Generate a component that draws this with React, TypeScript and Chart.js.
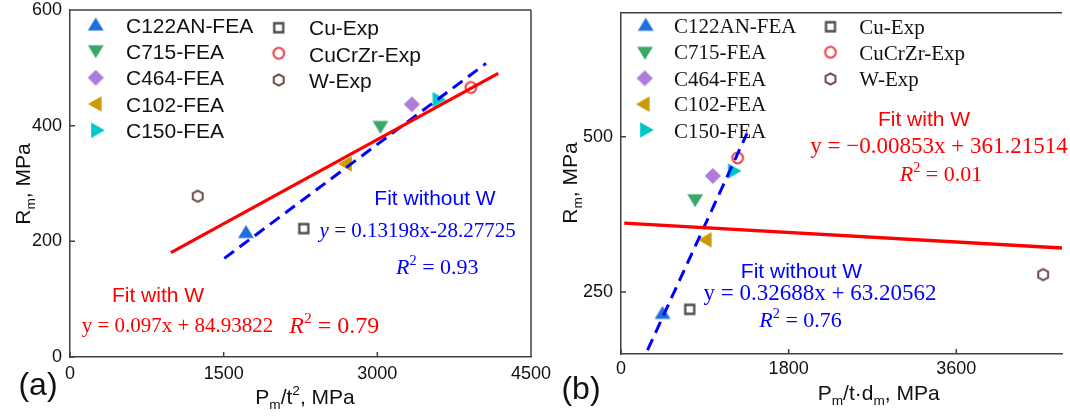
import React, { useEffect, useRef } from 'react';
import { Chart, registerables } from 'chart.js';

Chart.register(...registerables);

// ---------------- data ----------------
const seriesNames = ['C122AN-FEA', 'C715-FEA', 'C464-FEA', 'C102-FEA', 'C150-FEA', 'Cu-Exp', 'CuCrZr-Exp', 'W-Exp'];
const rmValues = [217, 397, 437, 334, 445, 222, 466, 278];
const xPmT2 = [1718, 3030, 3337, 2684, 3606, 2282, 3913, 1247];
const xPmTDm = [446, 796, 986, 899, 1220, 738, 1252, 4533];

const fitWithWAX = [985, 4180];
const fitWithWAY = [180.5, 490.4];
const fitNoWAX = [1506, 4061];
const fitNoWAY = [170.5, 507.7];
const fitWithWBX = [35, 4735];
const fitWithWBY = [360.9, 320.8];
const fitNoWBX = [285, 1353];
const fitNoWBY = [156.4, 505.5];

const xTicksA = [0, 1500, 3000, 4500];
const yTicksA = [0, 200, 400, 600];
const xTicksB = [0, 1800, 3600];
const yTicksB = [250, 500];
const xRangeA = [0, 4500];
const yRangeA = [0, 600];
const xRangeB = [0, 4735];
const yRangeB = [150, 700];

// ---------------- styles ----------------
const SANS = '"Liberation Sans", Arial, sans-serif';
const SERIF = '"Liberation Serif", "Times New Roman", serif';
const CAP_SANS = 0.716;
const CAP_SERIF = 0.662;
const AXIS = '#404040';
const RED = '#ff0000';
const BLUE = '#0000ff';

const seriesColors = ['#1f6fe0', '#3aa868', '#b07cdc', '#cc9900', '#00c8c8', '#4d4d4d', '#f03c3c', '#6e4a46'];
const seriesShapes = ['triUp', 'triDown', 'diamond', 'triLeft', 'triRight', 'square', 'circle', 'hexagon'];

function makeMarker(shape: string, color: string): HTMLCanvasElement {
  const c = document.createElement('canvas');
  const s = 22;
  c.width = s;
  c.height = s;
  const g = c.getContext('2d')!;
  const m = s / 2;
  g.fillStyle = color;
  g.strokeStyle = color;
  g.lineJoin = 'miter';
  g.beginPath();
  const poly = (pts: number[][]) => {
    pts.forEach(([x, y], i) => (i === 0 ? g.moveTo(m + x, m + y) : g.lineTo(m + x, m + y)));
    g.closePath();
  };
  switch (shape) {
    case 'triUp':
      poly([[0, -6.6], [7.9, 6.6], [-7.9, 6.6]]);
      g.fill();
      break;
    case 'triDown':
      poly([[0, 6.6], [7.9, -6.6], [-7.9, -6.6]]);
      g.fill();
      break;
    case 'triLeft':
      poly([[-6.8, 0], [6.8, -7.8], [6.8, 7.8]]);
      g.fill();
      break;
    case 'triRight':
      poly([[6.8, 0], [-6.8, -7.8], [-6.8, 7.8]]);
      g.fill();
      break;
    case 'diamond':
      poly([[0, -8.1], [8.1, 0], [0, 8.1], [-8.1, 0]]);
      g.fill();
      break;
    case 'square':
      g.lineWidth = 2.3;
      g.rect(m - 4.5, m - 4.5, 9, 9);
      g.stroke();
      break;
    case 'circle':
      g.lineWidth = 2;
      g.arc(m, m, 5.4, 0, Math.PI * 2);
      g.stroke();
      break;
    case 'hexagon': {
      g.lineWidth = 2;
      const pts: number[][] = [];
      for (let i = 0; i < 6; i++) {
        const a = -Math.PI / 2 + (i * Math.PI) / 3;
        pts.push([5.7 * Math.cos(a), 5.7 * Math.sin(a)]);
      }
      poly(pts);
      g.stroke();
      break;
    }
  }
  return c;
}

type Run = { t: string; it?: boolean; sup?: boolean; sub?: boolean };

function drawRuns(
  ctx: CanvasRenderingContext2D,
  runs: Run[],
  x: number,
  cy: number,
  size: number,
  family: string,
  color: string,
  cap: number,
  align: 'center' | 'left' = 'center'
) {
  ctx.save();
  ctx.fillStyle = color;
  ctx.textAlign = 'left';
  ctx.textBaseline = 'alphabetic';
  const f = (r: Run) => `${r.it ? 'italic ' : ''}${r.sup || r.sub ? size * 0.65 : size}px ${family}`;
  const ws = runs.map((r) => {
    ctx.font = f(r);
    return ctx.measureText(r.t).width;
  });
  const total = ws.reduce((a, b) => a + b, 0);
  let px = align === 'center' ? x - total / 2 : x;
  const base = cy + (cap * size) / 2;
  runs.forEach((r, i) => {
    ctx.font = f(r);
    ctx.fillText(r.t, px, base + (r.sup ? -0.4 * size : r.sub ? 0.25 * size : 0));
    px += ws[i];
  });
  ctx.restore();
}

type Annot = { runs: Run[]; x: number; y: number; size: number; family: string; color: string; cap: number };
type LegendItem = { idx: number; mx: number; my: number; tx: number; ty: number };

interface PanelCfg {
  xs: number[];
  fitWX: number[];
  fitWY: number[];
  fitNX: number[];
  fitNY: number[];
  xRange: number[];
  yRange: number[];
  xTicks: number[];
  yTicks: number[];
  yAxisWidth: number;
  xAxisHeight: number;
  padTop: number;
  padRight: number;
  xPad: number;
  yPad: number;
  frameRight: boolean;
  legend: LegendItem[];
  legendFamily: string;
  legendCap: number;
  annots: Annot[];
  xTitle: Run[];
  xTitleX: number;
  xTitleY: number;
  yTitleBase: number;
  yTitleY: number;
  label: string;
  labelX: number;
  labelBase: number;
}

function buildConfig(p: PanelCfg): any {
  const markers = seriesShapes.map((sh, i) => makeMarker(sh, seriesColors[i]));
  const pointSets = seriesNames.map((name, i) => ({
    label: name,
    data: [{ x: p.xs[i], y: rmValues[i] }],
    showLine: false,
    pointStyle: markers[i],
    pointRadius: 8,
    pointHoverRadius: 8,
    pointBackgroundColor: seriesColors[i],
    pointBorderColor: seriesColors[i],
    pointBorderWidth: 0,
  }));
  const lineSets = [
    {
      label: 'Fit with W',
      data: p.fitWX.map((x, i) => ({ x, y: p.fitWY[i] })),
      showLine: true,
      borderColor: RED,
      borderWidth: 3.3,
      pointRadius: 0,
      fill: false,
      tension: 0,
    },
    {
      label: 'Fit without W',
      data: p.fitNX.map((x, i) => ({ x, y: p.fitNY[i] })),
      showLine: true,
      borderColor: BLUE,
      borderWidth: 3,
      borderDash: [12, 7],
      pointRadius: 0,
      fill: false,
      tension: 0,
    },
  ];

  const decor = {
    id: 'decor',
    beforeDatasetsDraw(chart: any) {
      const ctx: CanvasRenderingContext2D = chart.ctx;
      p.legend.forEach((it) => {
        const img = markers[it.idx];
        ctx.drawImage(img, it.mx - img.width / 2, it.my - img.height / 2);
        drawRuns(ctx, [{ t: seriesNames[it.idx] }], it.tx, it.ty, 21, p.legendFamily, '#111', p.legendCap, 'left');
      });
      p.annots.forEach((a) => drawRuns(ctx, a.runs, a.x, a.y, a.size, a.family, a.color, a.cap));
    },
    afterDraw(chart: any) {
      const ctx: CanvasRenderingContext2D = chart.ctx;
      const { left, right, top, bottom } = chart.chartArea;
      const xs = chart.scales.x;
      const ys = chart.scales.y;
      ctx.save();
      ctx.strokeStyle = AXIS;
      ctx.lineWidth = 1.5;
      ctx.beginPath();
      ctx.moveTo(left, top);
      ctx.lineTo(right, top);
      if (p.frameRight) {
        ctx.moveTo(right, top);
        ctx.lineTo(right, bottom);
      }
      p.xTicks.forEach((v) => {
        const px = xs.getPixelForValue(v);
        ctx.moveTo(px, bottom);
        ctx.lineTo(px, bottom - 5);
      });
      p.yTicks.forEach((v) => {
        const py = ys.getPixelForValue(v);
        ctx.moveTo(left, py);
        ctx.lineTo(left + 5, py);
      });
      ctx.stroke();
      ctx.restore();
      drawRuns(ctx, p.xTitle, p.xTitleX, p.xTitleY, 21, SANS, '#111', CAP_SANS);
      ctx.save();
      ctx.translate(p.yTitleBase, p.yTitleY);
      ctx.rotate(-Math.PI / 2);
      drawRuns(ctx, [{ t: 'R' }, { t: 'm', sub: true }, { t: ', MPa' }], 0, (-CAP_SANS * 21) / 2, 21, SANS, '#111', CAP_SANS);
      ctx.restore();
      ctx.save();
      ctx.fillStyle = '#111';
      ctx.font = `32px ${SANS}`;
      ctx.textAlign = 'center';
      ctx.textBaseline = 'alphabetic';
      ctx.fillText(p.label, p.labelX, p.labelBase);
      ctx.restore();
    },
  };

  const tickFont = { family: SANS, size: 18, lineHeight: 1 };
  return {
    type: 'scatter',
    data: { datasets: [...lineSets, ...pointSets] },
    options: {
      responsive: false,
      animation: false,
      devicePixelRatio: 1,
      layout: { padding: { left: 0, top: p.padTop, right: p.padRight, bottom: 0 } },
      plugins: { legend: { display: false }, tooltip: { enabled: false } },
      events: [],
      scales: {
        x: {
          type: 'linear',
          min: p.xRange[0],
          max: p.xRange[1],
          afterBuildTicks: (s: any) => {
            s.ticks = p.xTicks.map((v) => ({ value: v }));
          },
          afterFit: (s: any) => {
            s.height = p.xAxisHeight;
            s.paddingLeft = 0;
            s.paddingRight = 0;
          },
          grid: { display: false, drawTicks: false },
          border: { display: true, color: AXIS, width: 1.5 },
          ticks: {
            font: tickFont,
            color: '#111',
            padding: p.xPad,
            maxRotation: 0,
            autoSkip: false,
            callback: (v: any) => String(v),
          },
        },
        y: {
          type: 'linear',
          min: p.yRange[0],
          max: p.yRange[1],
          afterBuildTicks: (s: any) => {
            s.ticks = p.yTicks.map((v) => ({ value: v }));
          },
          afterFit: (s: any) => {
            s.width = p.yAxisWidth;
            s.paddingTop = 0;
            s.paddingBottom = 0;
          },
          grid: { display: false, drawTicks: false },
          border: { display: true, color: AXIS, width: 1.5 },
          ticks: {
            font: tickFont,
            color: '#111',
            padding: p.yPad,
            autoSkip: false,
            callback: (v: any) => String(v),
          },
        },
      },
    },
    plugins: [decor],
  };
}

const eqA1: Run[] = [{ t: 'y', it: true }, { t: ' = 0.13198x-28.27725' }];
const r2A1: Run[] = [{ t: 'R', it: true }, { t: '2', sup: true }, { t: ' = 0.93' }];
const eqA2: Run[] = [{ t: 'y = 0.097x + 84.93822' }];
const r2A2: Run[] = [{ t: 'R', it: true }, { t: '2', sup: true }, { t: ' = 0.79' }];
const eqB1: Run[] = [{ t: 'y = \u22120.00853x + 361.21514' }];
const r2B1: Run[] = [{ t: 'R', it: true }, { t: '2', sup: true }, { t: ' = 0.01' }];
const eqB2: Run[] = [{ t: 'y = 0.32688x + 63.20562' }];
const r2B2: Run[] = [{ t: 'R', it: true }, { t: '2', sup: true }, { t: ' = 0.76' }];

const panelA: PanelCfg = {
  xs: xPmT2,
  fitWX: fitWithWAX,
  fitWY: fitWithWAY,
  fitNX: fitNoWAX,
  fitNY: fitNoWAY,
  xRange: xRangeA,
  yRange: yRangeA,
  xTicks: xTicksA,
  yTicks: yTicksA,
  yAxisWidth: 70,
  xAxisHeight: 59,
  padTop: 10,
  padRight: 29,
  xPad: 8,
  yPad: 8,
  frameRight: true,
  legend: [
    { idx: 0, mx: 95.7, my: 24, tx: 126, ty: 25 },
    { idx: 1, mx: 95.7, my: 51.7, tx: 126, ty: 51.3 },
    { idx: 2, mx: 95.7, my: 77.7, tx: 126, ty: 77.7 },
    { idx: 3, mx: 94.7, my: 104, tx: 126, ty: 104 },
    { idx: 4, mx: 98, my: 130.3, tx: 126, ty: 130.3 },
    { idx: 5, mx: 278.7, my: 27.7, tx: 309, ty: 27.5 },
    { idx: 6, mx: 278.7, my: 53.3, tx: 309, ty: 54.2 },
    { idx: 7, mx: 278.7, my: 80, tx: 309, ty: 80.8 },
  ],
  legendFamily: SANS,
  legendCap: CAP_SANS,
  annots: [
    { runs: [{ t: 'Fit without W' }], x: 435, y: 197.3, size: 21, family: SANS, color: BLUE, cap: CAP_SANS },
    { runs: eqA1, x: 417.7, y: 230, size: 21, family: SERIF, color: BLUE, cap: CAP_SERIF },
    { runs: r2A1, x: 437.3, y: 266.7, size: 22, family: SERIF, color: BLUE, cap: CAP_SERIF },
    { runs: [{ t: 'Fit with W' }], x: 158, y: 294, size: 21, family: SANS, color: RED, cap: CAP_SANS },
    { runs: eqA2, x: 177.5, y: 325, size: 21, family: SERIF, color: RED, cap: CAP_SERIF },
    { runs: r2A2, x: 334.3, y: 325, size: 24, family: SERIF, color: RED, cap: CAP_SERIF },
  ],
  xTitle: [{ t: 'P' }, { t: 'm', sub: true }, { t: '/t' }, { t: '2', sup: true }, { t: ', MPa' }],
  xTitleX: 305,
  xTitleY: 396,
  yTitleBase: 29.5,
  yTitleY: 184,
  label: '(a)',
  labelX: 38,
  labelBase: 395,
};

const OB = 540;
const panelB: PanelCfg = {
  xs: xPmTDm,
  fitWX: fitWithWBX,
  fitWY: fitWithWBY,
  fitNX: fitNoWBX,
  fitNY: fitNoWBY,
  xRange: xRangeB,
  yRange: yRangeB,
  xTicks: xTicksB,
  yTicks: yTicksB,
  yAxisWidth: 81,
  xAxisHeight: 62,
  padTop: 12.7,
  padRight: 0,
  xPad: 6,
  yPad: 8,
  frameRight: false,
  legend: [
    { idx: 0, mx: 645.7 - OB, my: 24.3, tx: 674 - OB, ty: 26.3 },
    { idx: 1, mx: 645 - OB, my: 53.3, tx: 674 - OB, ty: 52.5 },
    { idx: 2, mx: 644.7 - OB, my: 78.3, tx: 674 - OB, ty: 78.8 },
    { idx: 3, mx: 642.7 - OB, my: 104.2, tx: 674 - OB, ty: 104.2 },
    { idx: 4, mx: 647 - OB, my: 130, tx: 674 - OB, ty: 130.8 },
    { idx: 5, mx: 830.5 - OB, my: 26.7, tx: 859.3 - OB, ty: 27.5 },
    { idx: 6, mx: 830.5 - OB, my: 52.3, tx: 859.3 - OB, ty: 52.8 },
    { idx: 7, mx: 830.5 - OB, my: 79, tx: 859.3 - OB, ty: 79.2 },
  ],
  legendFamily: SERIF,
  legendCap: CAP_SERIF,
  annots: [
    { runs: [{ t: 'Fit with W' }], x: 924 - OB, y: 118.3, size: 21, family: SANS, color: RED, cap: CAP_SANS },
    { runs: eqB1, x: 939 - OB, y: 145.7, size: 23, family: SERIF, color: RED, cap: CAP_SERIF },
    { runs: r2B1, x: 941 - OB, y: 174, size: 22, family: SERIF, color: RED, cap: CAP_SERIF },
    { runs: [{ t: 'Fit without W' }], x: 801.5 - OB, y: 270, size: 21, family: SANS, color: BLUE, cap: CAP_SANS },
    { runs: eqB2, x: 820 - OB, y: 292.3, size: 23, family: SERIF, color: BLUE, cap: CAP_SERIF },
    { runs: r2B2, x: 800.6 - OB, y: 320, size: 22, family: SERIF, color: BLUE, cap: CAP_SERIF },
  ],
  xTitle: [{ t: 'P' }, { t: 'm', sub: true }, { t: '/t\u00b7d' }, { t: 'm', sub: true }, { t: ', MPa' }],
  xTitleX: 878.7 - OB,
  xTitleY: 392,
  yTitleBase: 576.5 - OB,
  yTitleY: 183,
  label: '(b)',
  labelX: 581 - OB,
  labelBase: 399,
};

function Panel({ cfg, left, width }: { cfg: PanelCfg; left: number; width: number }) {
  const ref = useRef<HTMLCanvasElement>(null);
  useEffect(() => {
    const chart = new Chart(ref.current!, buildConfig(cfg));
    return () => chart.destroy();
  }, [cfg]);
  return (
    <canvas
      ref={ref}
      width={width}
      height={416}
      style={{ position: 'absolute', left, top: 0, width, height: 416 }}
    />
  );
}

export default function App() {
  return (
    <div style={{ position: 'fixed', left: 0, top: 0, width: 1070, height: 416, background: '#fff', overflow: 'hidden' }}>
      <Panel cfg={panelA} left={0} width={560} />
      <Panel cfg={panelB} left={540} width={530} />
    </div>
  );
}
